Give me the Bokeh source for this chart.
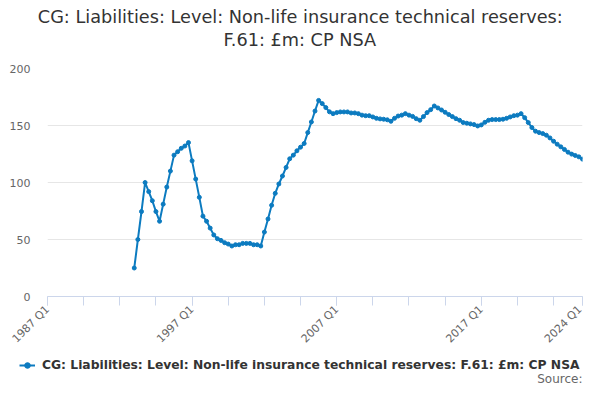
from bokeh.plotting import figure
from bokeh.layouts import column
from bokeh.models import (ColumnDataSource, FixedTicker, Legend, LegendItem,
                          Range1d, Title, Label)
from bokeh.embed import file_html
from bokeh.resources import INLINE

# ---- data ----
first_index = 24   # quarter index of 1993 Q1 (index 0 = 1987 Q1)
values = [
    25, 50, 74.5, 100, 92, 84, 74.5, 66, 81, 96,
    110, 124, 127, 130, 132, 135, 119, 103, 87, 70.5,
    66, 60, 54, 50.7, 49.2, 47.2, 46, 44.3, 45.4, 45.4,
    46.6, 46.6, 46.6, 45.4, 45.4, 44.3, 56.5, 68, 80, 90.5,
    98.7, 105.7, 113.2, 120.8, 124, 127.8, 131, 134.2, 143.8, 153.1,
    162.7, 172, 169.2, 165.7, 162, 160.4, 161.3, 161.9, 161.9, 161.9,
    161, 161, 160.4, 159.1, 158.6, 158.6, 157.5, 156.3, 155.8, 155.5,
    155, 153.7, 156.3, 158.3, 159.1, 160.4, 159.1, 158, 156, 154.6,
    157.8, 161.3, 163.9, 167.1, 165.4, 163.6, 161.6, 159.6, 157.8, 156,
    154.6, 152.6, 152, 151.4, 150.8, 149.6, 150.5, 152.8, 154.6, 155.2,
    155.2, 155.2, 155.5, 156.3, 157.5, 158.6, 159.1, 160.4, 156.9, 152.6,
    148.2, 145, 143.8, 142.9, 141.5, 139.1, 136.2, 133.6, 131.3, 129,
    126.6, 124.9, 123.7, 122.5, 120.5,
]
x_idx = list(range(first_index, first_index + len(values)))
x_tick_idx = [0, 40, 80, 120, 148]
x_tick_labels = ["1987 Q1", "1997 Q1", "2007 Q1", "2017 Q1", "2024 Q1"]
x_minor_idx = list(range(0, 141, 10)) + [148]
y_ticks = [0, 50, 100, 150, 200]
title_lines = ["CG: Liabilities: Level: Non-life insurance technical reserves:",
               "F.61: £m: CP NSA"]
series_name = "CG: Liabilities: Level: Non-life insurance technical reserves: F.61: £m: CP NSA"
source_text = "Source:"

FONT = "DejaVu Sans"
BLUE = "#0c7bc0"
W = 584
H_MAIN = 353
H_LEG = 31

src = ColumnDataSource(data=dict(x=x_idx, y=values))

p = figure(width=W, height=H_MAIN, output_backend="svg", toolbar_location=None,
           x_range=Range1d(0, 148), y_range=Range1d(0, 200),
           min_border_left=47, min_border_right=2, min_border_top=68,
           min_border_bottom=56)
p.outline_line_color = None
p.frame_align = False

line = p.line("x", "y", source=src, line_color=BLUE, line_width=2)
pts = p.scatter("x", "y", source=src, size=4, fill_color=BLUE, line_color=BLUE)

# x axis
xa = p.xaxis[0]
xa.ticker = FixedTicker(ticks=x_tick_idx, minor_ticks=x_minor_idx)
xa.major_label_overrides = {t: l for t, l in zip(x_tick_idx, x_tick_labels)}
xa.major_label_orientation = 0.785398
xa.axis_line_color = "#ccd6eb"
xa.major_tick_line_color = "#ccd6eb"
xa.minor_tick_line_color = "#ccd6eb"
xa.major_tick_out = 9
xa.major_tick_in = 0
xa.minor_tick_out = 9
xa.minor_tick_in = 0
xa.major_label_text_font = FONT
xa.major_label_text_font_size = "11px"
xa.major_label_text_color = "#666666"
xa.major_label_standoff = 2

# y axis
ya = p.yaxis[0]
ya.ticker = FixedTicker(ticks=y_ticks)
ya.axis_line_color = None
ya.major_tick_line_color = None
ya.minor_tick_line_color = None
ya.major_tick_out = 0
ya.major_tick_in = 0
ya.minor_tick_out = 0
ya.major_label_standoff = 17
ya.major_label_text_font = FONT
ya.major_label_text_font_size = "11px"
ya.major_label_text_color = "#666666"

p.xgrid.grid_line_color = None
p.ygrid.grid_line_color = "#e6e6e6"
p.ygrid.ticker = FixedTicker(ticks=y_ticks)

# title: second line first (closest to the plot), then first line
p.add_layout(Title(text=title_lines[1], align="left", text_font=FONT,
                   text_font_size="17.7px", text_font_style="normal",
                   text_color="#333333", standoff=37, offset=176), "above")
p.add_layout(Title(text=title_lines[0], align="left", text_font=FONT,
                   text_font_size="17.7px", text_font_style="normal",
                   text_color="#333333", standoff=-34, offset=-9.7), "above")

# ---- legend strip (series shown through its legend; data lie outside view) ----
q = figure(width=W, height=H_LEG, output_backend="svg", toolbar_location=None,
           x_range=Range1d(0, 1), y_range=Range1d(0, 1),
           x_axis_type=None, y_axis_type=None,
           min_border_left=0, min_border_right=0, min_border_top=0,
           min_border_bottom=0)
q.frame_align = False
q.outline_line_color = None
q.xgrid.visible = False
q.ygrid.visible = False
leg_line = q.line("x", "y", source=src, line_color=BLUE, line_width=2)
leg_pts = q.scatter("x", "y", source=src, size=4, fill_color=BLUE, line_color=BLUE)
legend = Legend(items=[LegendItem(label=series_name, renderers=[leg_line, leg_pts])],
                location=(19, 12), orientation="horizontal",
                label_text_font=FONT, label_text_font_size="12.3px",
                label_text_font_style="bold", label_text_color="#333333",
                border_line_color=None, background_fill_alpha=0,
                padding=0, margin=0, glyph_width=16, glyph_height=14,
                label_height=14, label_standoff=7)
q.add_layout(legend, "center")
q.add_layout(Label(x=582, y=6, x_units="screen", y_units="screen",
                   text=source_text, text_align="right", text_baseline="middle",
                   text_font=FONT, text_font_size="12px", text_color="#666666"))

page = column(p, q, spacing=0)
open("out.html", "w").write(file_html(page, INLINE))
